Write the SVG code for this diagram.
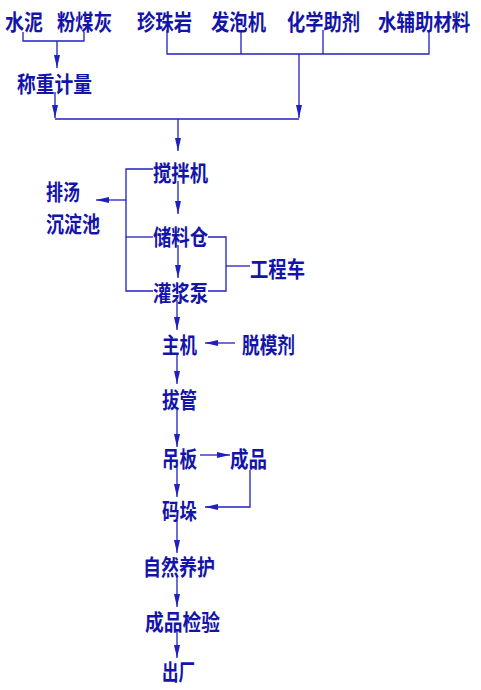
<svg xmlns="http://www.w3.org/2000/svg" width="481" height="690" viewBox="0 0 481 690">
<defs>
<marker id="ah" markerUnits="userSpaceOnUse" viewBox="0 0 13 6" refX="13" refY="3" markerWidth="13" markerHeight="6" orient="auto">
<path d="M0,0 L13,3 L0,6 z" fill="#2020c0"/>
</marker>
<style>
text{font-family:"Noto Sans CJK SC","Noto Sans CJK JP",sans-serif;font-size:22px;font-weight:bold;fill:#1414a8;dominant-baseline:central}
.c line,.c polyline{stroke:#2020c0;stroke-width:1.3;fill:none}
.a{marker-end:url(#ah)}
</style>
</defs>
<rect width="481" height="690" fill="#fff"/>
<g class="c" id="connectors">
<polyline points="23,32 23,41 84,41 84,32"/>
<line class="a" x1="57" y1="41" x2="57" y2="68"/>
<line class="a" x1="55" y1="92" x2="55" y2="118"/>
<line x1="55" y1="119" x2="299" y2="119"/>
<polyline points="167,30 167,54 429,54 429,30"/>
<line x1="241" y1="30" x2="241" y2="54"/>
<line x1="323" y1="30" x2="323" y2="54"/>
<line class="a" x1="299" y1="54" x2="299" y2="118"/>
<line class="a" x1="178" y1="119" x2="178" y2="151"/>
<line class="a" x1="178" y1="181" x2="178" y2="214"/>
<line class="a" x1="178" y1="245" x2="178" y2="278"/>
<line class="a" x1="177" y1="300" x2="177" y2="330"/>
<line class="a" x1="177" y1="354" x2="177" y2="384"/>
<line class="a" x1="177" y1="410" x2="177" y2="447"/>
<line class="a" x1="177" y1="467" x2="177" y2="497"/>
<line class="a" x1="177" y1="520" x2="177" y2="553"/>
<line class="a" x1="177" y1="577" x2="177" y2="607"/>
<line class="a" x1="177" y1="631" x2="177" y2="658"/>
<polyline points="153,169 126,169 126,291 153,291"/>
<line x1="126" y1="237" x2="153" y2="237"/>
<line class="a" x1="126" y1="200" x2="96" y2="200"/>
<polyline points="208,237 226,237 226,291 208,291"/>
<line x1="226" y1="266" x2="250" y2="266"/>
<line class="a" x1="235" y1="343" x2="205" y2="343"/>
<line class="a" x1="200" y1="455" x2="230" y2="455"/>
<polyline class="a" points="250,470 250,507 205,507"/>
</g>
<g id="n-shuini"><text x="5" y="20" textLength="38" lengthAdjust="spacingAndGlyphs">水泥</text></g>
<g id="n-fenmeihui"><text x="57" y="20" textLength="55" lengthAdjust="spacingAndGlyphs">粉煤灰</text></g>
<g id="n-zhenzhuyan"><text x="137" y="20" textLength="55" lengthAdjust="spacingAndGlyphs">珍珠岩</text></g>
<g id="n-fapaoji"><text x="211" y="20" textLength="55" lengthAdjust="spacingAndGlyphs">发泡机</text></g>
<g id="n-huaxue"><text x="287" y="20" textLength="73" lengthAdjust="spacingAndGlyphs">化学助剂</text></g>
<g id="n-shuifuzhu"><text transform="translate(378,20) scale(0.84,1)" x="0" y="0">水辅助材料</text></g>
<g id="n-chengzhong"><text x="17" y="82" textLength="75" lengthAdjust="spacingAndGlyphs">称重计量</text></g>
<g id="n-jiaobanji"><text x="153" y="171" textLength="55" lengthAdjust="spacingAndGlyphs">搅拌机</text></g>
<g id="n-chendianchi"><text x="46" y="190" textLength="34" lengthAdjust="spacingAndGlyphs">排汤</text><text x="46" y="222" textLength="54" lengthAdjust="spacingAndGlyphs">沉淀池</text></g>
<g id="n-chuliaocang"><text x="153" y="235" textLength="55" lengthAdjust="spacingAndGlyphs">储料仓</text></g>
<g id="n-gongchengche"><text x="250" y="267" textLength="55" lengthAdjust="spacingAndGlyphs">工程车</text></g>
<g id="n-guanjiangbeng"><text x="153" y="291" textLength="55" lengthAdjust="spacingAndGlyphs">灌浆泵</text></g>
<g id="n-zhuji"><text x="162" y="343" textLength="35" lengthAdjust="spacingAndGlyphs">主机</text></g>
<g id="n-tuomoji"><text x="242" y="343" textLength="53" lengthAdjust="spacingAndGlyphs">脱模剂</text></g>
<g id="n-baguan"><text x="162" y="398" textLength="35" lengthAdjust="spacingAndGlyphs">拔管</text></g>
<g id="n-diaoban"><text x="162" y="457" textLength="35" lengthAdjust="spacingAndGlyphs">吊板</text></g>
<g id="n-chengpin"><text x="230" y="457" textLength="37" lengthAdjust="spacingAndGlyphs">成品</text></g>
<g id="n-maduo"><text x="162" y="509" textLength="35" lengthAdjust="spacingAndGlyphs">码垛</text></g>
<g id="n-yanghu"><text x="143" y="565" textLength="72" lengthAdjust="spacingAndGlyphs">自然养护</text></g>
<g id="n-jianyan"><text x="145" y="620" textLength="75" lengthAdjust="spacingAndGlyphs">成品检验</text></g>
<g id="n-chuchang"><text x="162" y="670" textLength="33" lengthAdjust="spacingAndGlyphs">出厂</text></g>
</svg>
